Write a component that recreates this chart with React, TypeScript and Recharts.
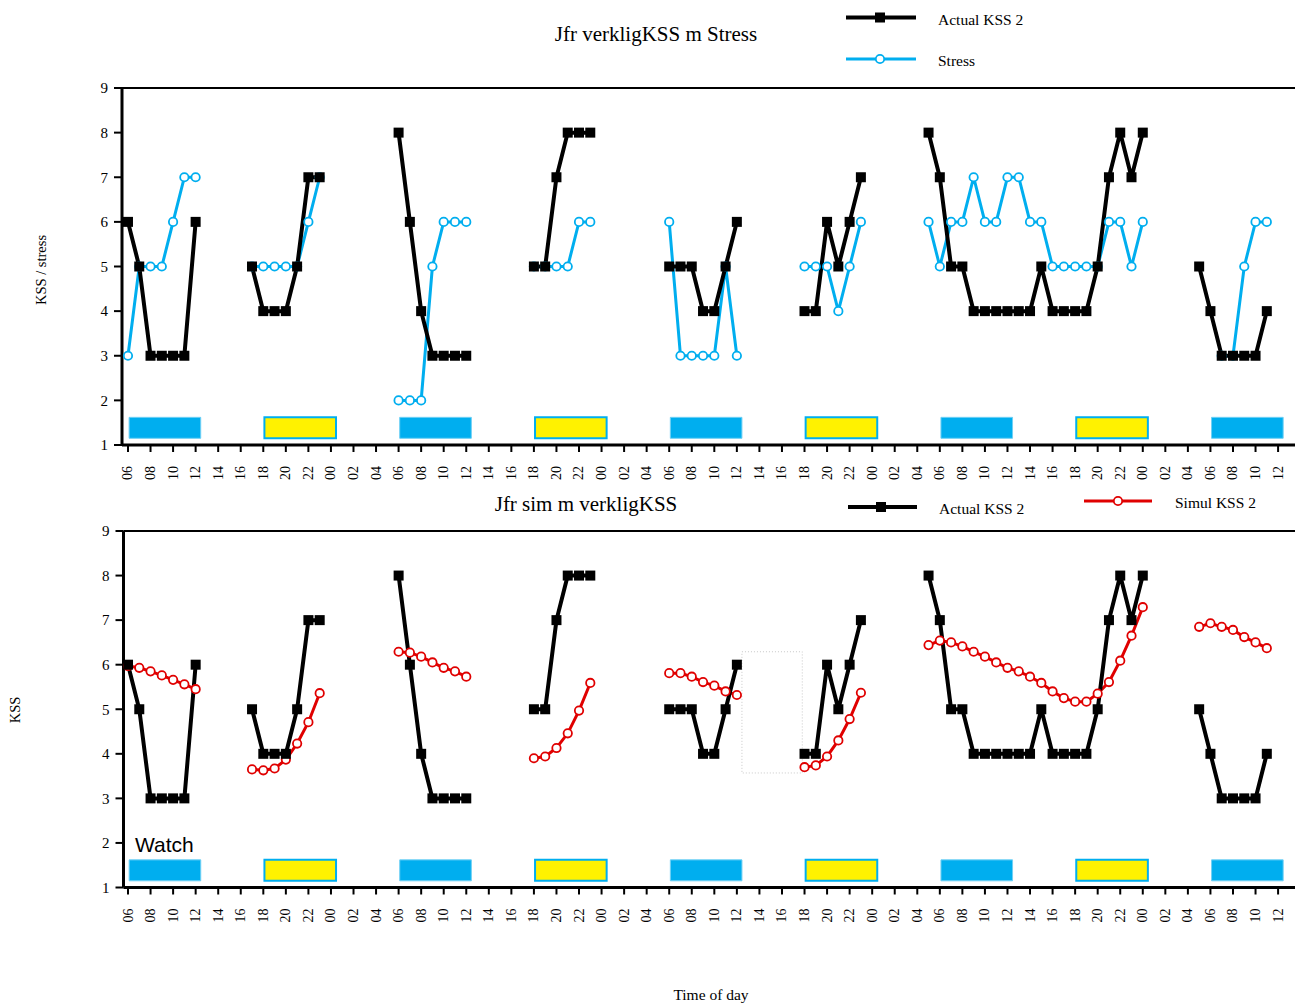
import React from "react";
import { LineChart, Line, XAxis, YAxis, ReferenceArea, ReferenceLine } from "recharts";

// hour 0 = midnight before the first morning shown
const tickHours = [
  6, 8, 10, 12, 14, 16, 18, 20, 22, 24, 26, 28, 30, 32, 34, 36, 38, 40, 42, 44, 46, 48, 50, 52, 54, 56,
  58, 60, 62, 64, 66, 68, 70, 72, 74, 76, 78, 80, 82, 84, 86, 88, 90, 92, 94, 96, 98, 100, 102, 104, 106, 108,
];
const yTicks = [1, 2, 3, 4, 5, 6, 7, 8, 9];

const kssStarts = [6, 17, 30, 42, 54, 66, 77, 101];
const kssValues = [
  [6, 5, 3, 3, 3, 3, 6],
  [5, 4, 4, 4, 5, 7, 7],
  [8, 6, 4, 3, 3, 3, 3],
  [5, 5, 7, 8, 8, 8],
  [5, 5, 5, 4, 4, 5, 6],
  [4, 4, 6, 5, 6, 7],
  [8, 7, 5, 5, 4, 4, 4, 4, 4, 4, 5, 4, 4, 4, 4, 5, 7, 8, 7, 8],
  [5, 4, 3, 3, 3, 3, 4],
];

const stressStarts = [6, 17, 30, 42, 54, 66, 77, 103];
const stressValues = [
  [3, 5, 5, 5, 6, 7, 7],
  [5, 5, 5, 5, 5, 6, 7],
  [2, 2, 2, 5, 6, 6, 6],
  [5, 5, 5, 5, 6, 6],
  [6, 3, 3, 3, 3, 5, 3],
  [5, 5, 5, 4, 5, 6],
  [6, 5, 6, 6, 7, 6, 6, 7, 7, 6, 6, 5, 5, 5, 5, 5, 6, 6, 5, 6],
  [3, 3, 5, 6, 6],
];

const simStarts = [6, 17, 30, 42, 54, 66, 77, 101];
const simValues = [
  [5.97, 5.93, 5.85, 5.76, 5.66, 5.56, 5.45],
  [3.65, 3.63, 3.67, 3.87, 4.23, 4.71, 5.36],
  [6.29, 6.27, 6.18, 6.05, 5.93, 5.85, 5.73],
  [3.9, 3.94, 4.13, 4.46, 4.97, 5.59],
  [5.81, 5.81, 5.73, 5.61, 5.53, 5.4, 5.32],
  [3.7, 3.74, 3.94, 4.3, 4.78, 5.37],
  [6.44, 6.54, 6.5, 6.41, 6.29, 6.18, 6.05, 5.93, 5.85, 5.73, 5.59, 5.4, 5.25, 5.17, 5.17, 5.35, 5.61, 6.09, 6.65, 7.29],
  [6.85, 6.93, 6.85, 6.78, 6.62, 6.5, 6.37],
];

// watch bars along the bottom of each panel
const watchStarts = [6, 18, 30, 42, 54, 66, 78, 90, 102];
const watchKinds = ["day", "night", "day", "night", "day", "night", "day", "night", "day"];

const BLUE = "#00AEEF";
const RED = "#E00000";
const YELLOW = "#FFF200";
const SERIF = "'Liberation Serif', 'Times New Roman', serif";

function toMap(starts: number[], values: number[][]) {
  const m = new Map<number, number>();
  starts.forEach((s, i) => values[i].forEach((v, j) => m.set(s + j, v)));
  return m;
}
const kssMap = toMap(kssStarts, kssValues);
const stressMap = toMap(stressStarts, stressValues);
const simMap = toMap(simStarts, simValues);

const rows: { hour: number; kss: number | null; stress: number | null; sim: number | null }[] = [];
for (let h = 5; h <= 110; h++) {
  rows.push({ hour: h, kss: kssMap.get(h) ?? null, stress: stressMap.get(h) ?? null, sim: simMap.get(h) ?? null });
}

function SquareDot(props: any) {
  const { cx, cy, index, value } = props;
  if (cx == null || cy == null || value == null) return <g key={index} />;
  return <rect key={index} x={cx - 5} y={cy - 5} width={10} height={10} fill="#000" />;
}

function circleDot(color: string) {
  return (props: any) => {
    const { cx, cy, index, value } = props;
    if (cx == null || cy == null || value == null) return <g key={index} />;
    return <circle key={index} cx={cx} cy={cy} r={4.2} fill="#fff" stroke={color} strokeWidth={1.8} />;
  };
}

function HourTick(props: any) {
  const { x, y, payload } = props;
  const label = String(payload.value % 24).padStart(2, "0");
  return (
    <text x={x} y={y} transform={`rotate(-90 ${x} ${y})`} textAnchor="end" dominantBaseline="central" fontFamily={SERIF} fontSize={14} fill="#000">
      {label}
    </text>
  );
}

function watchAreas() {
  return watchStarts.map((s, i) =>
    watchKinds[i] === "day" ? (
      <ReferenceArea key={"w" + i} x1={s + 0.1} x2={s + 6.45} y1={1.15} y2={1.62} fill={BLUE} fillOpacity={1} stroke="#6fd0f5" strokeWidth={1} />
    ) : (
      <ReferenceArea key={"w" + i} x1={s + 0.1} x2={s + 6.45} y1={1.15} y2={1.62} fill={YELLOW} fillOpacity={1} stroke={BLUE} strokeWidth={2} />
    )
  );
}

function Panel({ yAxisWidth, domain, xAxisHeight, top, height, second }: { yAxisWidth: number; domain: [number, number]; xAxisHeight: number; top: number; height: number; second: "stress" | "sim" }) {
  return (
    <div style={{ position: "absolute", left: 0, top, width: 1295, height }}>
      <LineChart width={1295} height={height} data={rows} margin={{ top: top === 0 ? 88 : 41, right: 0, left: 0, bottom: 0 }}>
        <XAxis
          dataKey="hour"
          type="number"
          domain={domain}
          allowDataOverflow
          ticks={tickHours}
          interval={0}
          height={xAxisHeight}
          tick={<HourTick />}
          tickSize={7}
          tickMargin={14}
          axisLine={{ stroke: "#000", strokeWidth: 3 }}
          tickLine={{ stroke: "#000", strokeWidth: 2 }}
        />
        <YAxis
          type="number"
          domain={[1, 9]}
          ticks={yTicks}
          interval={0}
          width={yAxisWidth}
          tickSize={8}
          tickMargin={6}
          tick={{ fill: "#000", fontSize: 15, fontFamily: SERIF }}
          axisLine={{ stroke: "#000", strokeWidth: 3 }}
          tickLine={{ stroke: "#000", strokeWidth: 2 }}
        />
        <ReferenceLine y={9} stroke="#000" strokeWidth={2} />
        {watchAreas()}
        {second === "sim" && (
          <ReferenceArea x1={60.45} x2={65.8} y1={3.57} y2={6.29} fill="none" fillOpacity={0} stroke="#c8c8c8" strokeWidth={1} strokeDasharray="1 2" />
        )}
        {second === "stress" ? (
          <Line dataKey="stress" stroke={BLUE} strokeWidth={3} dot={circleDot(BLUE)} isAnimationActive={false} />
        ) : (
          <Line dataKey="sim" stroke={RED} strokeWidth={3} dot={circleDot(RED)} isAnimationActive={false} />
        )}
        <Line dataKey="kss" stroke="#000" strokeWidth={4} dot={SquareDot} isAnimationActive={false} />
      </LineChart>
    </div>
  );
}

export default function App() {
  return (
    <div style={{ position: "absolute", left: 0, top: 0, width: 1295, height: 1003, background: "#fff", fontFamily: SERIF }}>
      <Panel yAxisWidth={122} domain={[5.47, 109.5]} xAxisHeight={45} top={0} height={490} second="stress" />
      <Panel yAxisWidth={123.5} domain={[5.6, 109.5]} xAxisHeight={52.5} top={490} height={450} second="sim" />
      <svg width={1295} height={1003} style={{ position: "absolute", left: 0, top: 0, pointerEvents: "none" }}>
        <g fontFamily={SERIF} fill="#000">
          <text x={656} y={41} fontSize={21} textAnchor="middle">Jfr verkligKSS m Stress</text>
          <line x1={846} x2={916} y1={17.5} y2={17.5} stroke="#000" strokeWidth={4} />
          <rect x={875} y={12.5} width={10} height={10} fill="#000" />
          <text x={938} y={25} fontSize={15.5}>Actual KSS 2</text>
          <line x1={846} x2={916} y1={59} y2={59} stroke={BLUE} strokeWidth={3} />
          <circle cx={880} cy={59} r={4.2} fill="#fff" stroke={BLUE} strokeWidth={1.8} />
          <text x={938} y={66} fontSize={15.5}>Stress</text>

          <text x={586} y={511} fontSize={21} textAnchor="middle">Jfr sim m verkligKSS</text>
          <line x1={848} x2={917} y1={507} y2={507} stroke="#000" strokeWidth={4} />
          <rect x={876} y={502} width={10} height={10} fill="#000" />
          <text x={939} y={514} fontSize={15.5}>Actual KSS 2</text>
          <line x1={1084} x2={1152} y1={501} y2={501} stroke={RED} strokeWidth={3} />
          <circle cx={1118} cy={501} r={4.2} fill="#fff" stroke={RED} strokeWidth={1.8} />
          <text x={1175} y={508} fontSize={15.5}>Simul KSS 2</text>

          <text x={46} y={270} fontSize={14.5} textAnchor="middle" transform="rotate(-90 46 270)">KSS / stress</text>
          <text x={20} y={710} fontSize={14.5} textAnchor="middle" transform="rotate(-90 20 710)">KSS</text>
          <text x={711} y={1000} fontSize={15.5} textAnchor="middle">Time of day</text>
          <text x={135} y={852} fontSize={21} fontFamily="'Liberation Sans', Arial, sans-serif">Watch</text>
        </g>
      </svg>
    </div>
  );
}
